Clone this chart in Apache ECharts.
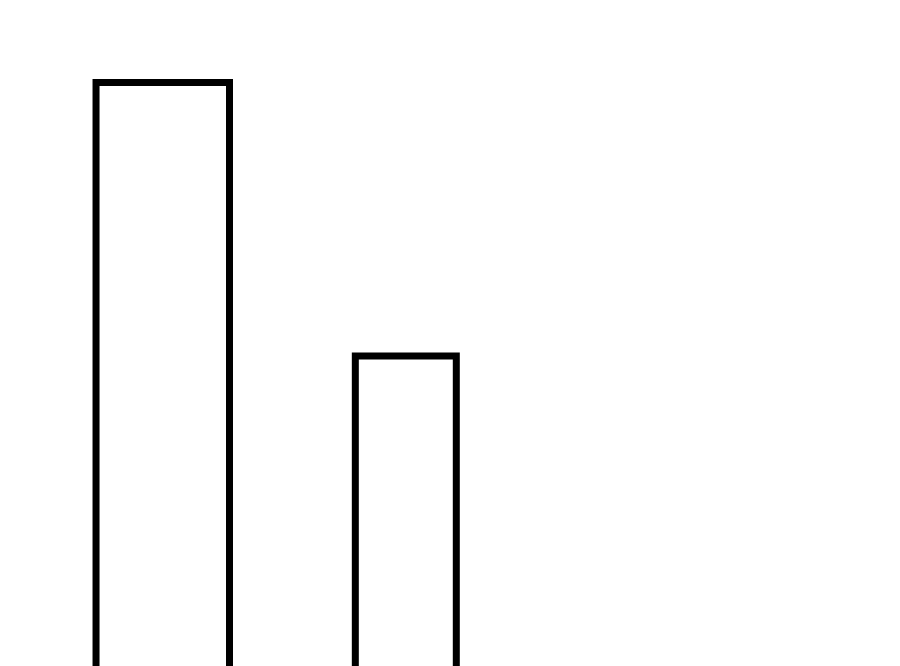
<!DOCTYPE html>
<html>
<head>
<meta charset="utf-8">
<script src="https://cdn.jsdelivr.net/npm/echarts@6/dist/echarts.min.js"></script>
<style>html,body{margin:0;padding:0;background:#fff}#c{width:900px;height:666px}</style>
</head>
<body>
<div id="c"></div>
<script>
const binStarts = [10.67, 39.48];
const binEnds = [25.5, 50.7];
const values = [100, 60];

const data = values.map((v, i) => [binStarts[i], binEnds[i], v]);

const chart = echarts.init(document.getElementById('c'), null, {renderer: 'canvas'});
chart.setOption({
  animation: false,
  backgroundColor: '#ffffff',
  grid: {left: 0, right: 0, top: 82.5, bottom: -100, outerBoundsMode: 'none', containLabel: false},
  xAxis: {type: 'value', min: 0, max: 100, show: false},
  yAxis: {type: 'value', min: 0, max: 100, show: false},
  series: [{
    type: 'custom',
    clip: false,
    data: data,
    renderItem: function (params, api) {
      const p0 = api.coord([api.value(0), api.value(2)]);
      const p1 = api.coord([api.value(1), 0]);
      return {
        type: 'rect',
        shape: {x: p0[0], y: p0[1], width: p1[0] - p0[0], height: p1[1] - p0[1]},
        style: {fill: '#ffffff', stroke: '#000000', lineWidth: 7}
      };
    }
  }]
});
</script>
</body>
</html>
